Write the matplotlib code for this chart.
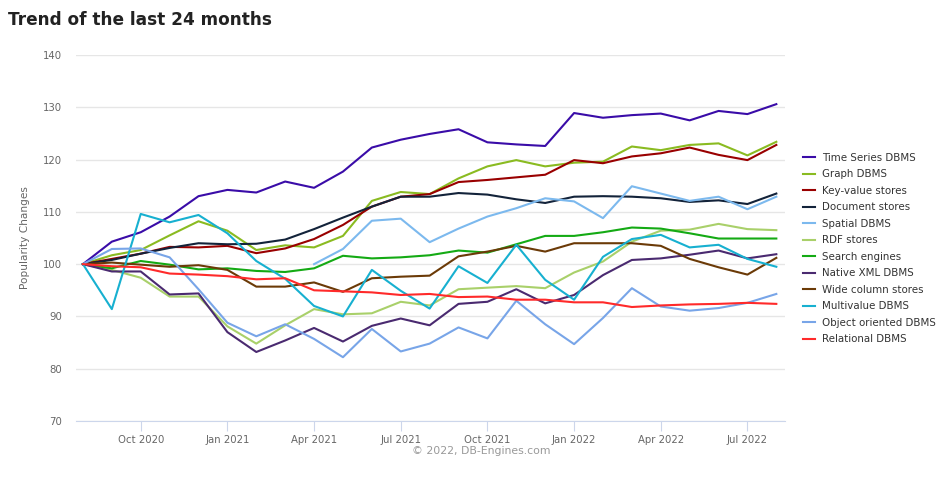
import numpy as np
import matplotlib

matplotlib.use("Agg")
import matplotlib.pyplot as plt

# months Aug 2020 .. Aug 2022 (index 0..24)
tick_pos = [2, 5, 8, 11, 14, 17, 20, 23]
tick_labels = ["Oct 2020", "Jan 2021", "Apr 2021", "Jul 2021",
               "Oct 2021", "Jan 2022", "Apr 2022", "Jul 2022"]

nan = np.nan

time_series = [100, 104.3, 106.1, 109.1, 113.0, 114.2, 113.7, 115.8, 114.6, 117.7,
               122.3, 123.8, 124.9, 125.8, 123.3, 122.9, 122.6, 128.9, 128.0, 128.5,
               128.8, 127.5, 129.3, 128.7, 130.6]
graph = [100, 101.7, 102.7, 105.5, 108.2, 106.4, 102.7, 103.6, 103.2, 105.4,
         112.1, 113.8, 113.4, 116.4, 118.7, 119.9, 118.7, 119.4, 119.6, 122.5,
         121.8, 122.8, 123.1, 120.8, 123.4]
key_value = [100, 101.0, 102.0, 103.3, 103.2, 103.5, 102.1, 103.0, 104.8, 107.5,
             111.0, 112.9, 113.4, 115.7, 116.1, 116.6, 117.1, 119.9, 119.3, 120.6,
             121.2, 122.3, 120.9, 119.9, 122.8]
document = [100, 100.8, 102.0, 103.1, 104.0, 103.8, 103.9, 104.7, 106.7, 108.9,
            111.0, 112.9, 112.9, 113.6, 113.3, 112.4, 111.7, 112.9, 113.0, 112.9,
            112.6, 111.9, 112.2, 111.5, 113.5]
spatial = [nan, nan, nan, nan, nan, nan, nan, nan, 100, 102.9,
           108.3, 108.7, 104.2, 106.8, 109.1, 110.7, 112.6, 112.0, 108.8, 114.9,
           113.5, 112.1, 112.9, 110.5, 112.9]
rdf = [100, 98.9, 97.4, 93.8, 93.8, 88.1, 84.8, 88.3, 91.4, 90.4,
       90.6, 92.8, 92.1, 95.2, 95.5, 95.8, 95.4, 98.4, 100.5, 104.3,
       106.4, 106.6, 107.7, 106.7, 106.5]
search = [100, 99.2, 100.6, 99.9, 99.0, 99.2, 98.7, 98.5, 99.2, 101.6,
          101.1, 101.3, 101.7, 102.6, 102.2, 103.8, 105.4, 105.4, 106.1, 107.0,
          106.8, 105.9, 104.9, 104.9, 104.9]
native_xml = [100, 98.6, 98.6, 94.2, 94.4, 87.0, 83.2, 85.4, 87.8, 85.2,
              88.2, 89.6, 88.3, 92.4, 92.8, 95.2, 92.5, 94.1, 97.9, 100.8,
              101.1, 101.8, 102.6, 101.1, 101.9]
wide_column = [100, 100.3, 99.9, 99.5, 99.8, 98.9, 95.7, 95.7, 96.5, 94.7,
               97.3, 97.6, 97.8, 101.5, 102.4, 103.5, 102.4, 104.0, 104.0, 104.0,
               103.5, 101.0, 99.4, 98.0, 101.2]
multivalue = [100, 91.4, 109.6, 108.0, 109.4, 105.9, 100.6, 97.2, 92.0, 90.0,
              98.9, 94.9, 91.5, 99.6, 96.4, 103.7, 97.0, 93.2, 101.4, 104.8,
              105.6, 103.2, 103.7, 101.0, 99.5]
object_oriented = [100, 102.9, 103.0, 101.3, 95.2, 88.8, 86.2, 88.5, 85.7, 82.2,
                   87.6, 83.3, 84.8, 87.9, 85.8, 93.0, 88.5, 84.7, 89.7, 95.4,
                   91.9, 91.1, 91.6, 92.6, 94.3]
relational = [100, 99.6, 99.4, 98.2, 98.0, 97.7, 97.1, 97.3, 95.0, 94.8,
              94.6, 94.1, 94.3, 93.7, 93.8, 93.2, 93.2, 92.7, 92.7, 91.8,
              92.1, 92.3, 92.4, 92.6, 92.4]

series = [
    ("Time Series DBMS", time_series, "#3a0ca8"),
    ("Graph DBMS", graph, "#8abb21"),
    ("Key-value stores", key_value, "#990000"),
    ("Document stores", document, "#13233a"),
    ("Spatial DBMS", spatial, "#7cb9ee"),
    ("RDF stores", rdf, "#a9d06a"),
    ("Search engines", search, "#14aa14"),
    ("Native XML DBMS", native_xml, "#4a2a70"),
    ("Wide column stores", wide_column, "#6b3a07"),
    ("Multivalue DBMS", multivalue, "#17b0d0"),
    ("Object oriented DBMS", object_oriented, "#78a5e8"),
    ("Relational DBMS", relational, "#ff2a2a"),
]

fig = plt.figure(figsize=(9.48, 4.78), dpi=100)
ax = fig.add_axes([76 / 948, 1 - 421 / 478, (785 - 76) / 948, (421 - 55) / 478])

x = np.arange(25)
for name, vals, col in series:
    ax.plot(x, vals, color=col, lw=1.5, label=name, solid_joinstyle="round")

ax.set_xlim(-0.24, 24.3)
ax.set_ylim(70, 140)
ax.set_yticks(range(70, 141, 10))
ax.set_xticks(tick_pos)
ax.set_xticklabels(tick_labels)
ax.grid(axis="y", color="#e6e6e6", lw=1)
ax.set_axisbelow(True)
for s in ["top", "right", "left"]:
    ax.spines[s].set_visible(False)
ax.spines["bottom"].set_color("#ccd6eb")
ax.tick_params(axis="y", length=0, pad=10, labelsize=7.3, labelcolor="#666666")
ax.tick_params(axis="x", length=7, color="#ccd6eb", labelsize=7.3, labelcolor="#666666", pad=3)
ax.set_ylabel("Popularity Changes", color="#666666", fontsize=7.6)
ax.yaxis.set_label_coords((30 - 76) / 709, 0.5)

fig.text(8 / 948, 1 - 20 / 478, "Trend of the last 24 months", fontsize=12.2,
         fontweight="bold", color="#222222", va="center", ha="left")
fig.text(481 / 948, 1 - 451 / 478, "\u00a9 2022, DB-Engines.com", fontsize=7.8,
         color="#999999", ha="center", va="center")

fig.legend(loc="upper left", bbox_to_anchor=(803 / 948, 1 - 153 / 478), frameon=False,
           fontsize=7.4, handlelength=1.17, handletextpad=0.65, labelspacing=0.63,
           borderpad=0, borderaxespad=0, labelcolor="#333333")

fig.savefig("out.png", dpi=100)
